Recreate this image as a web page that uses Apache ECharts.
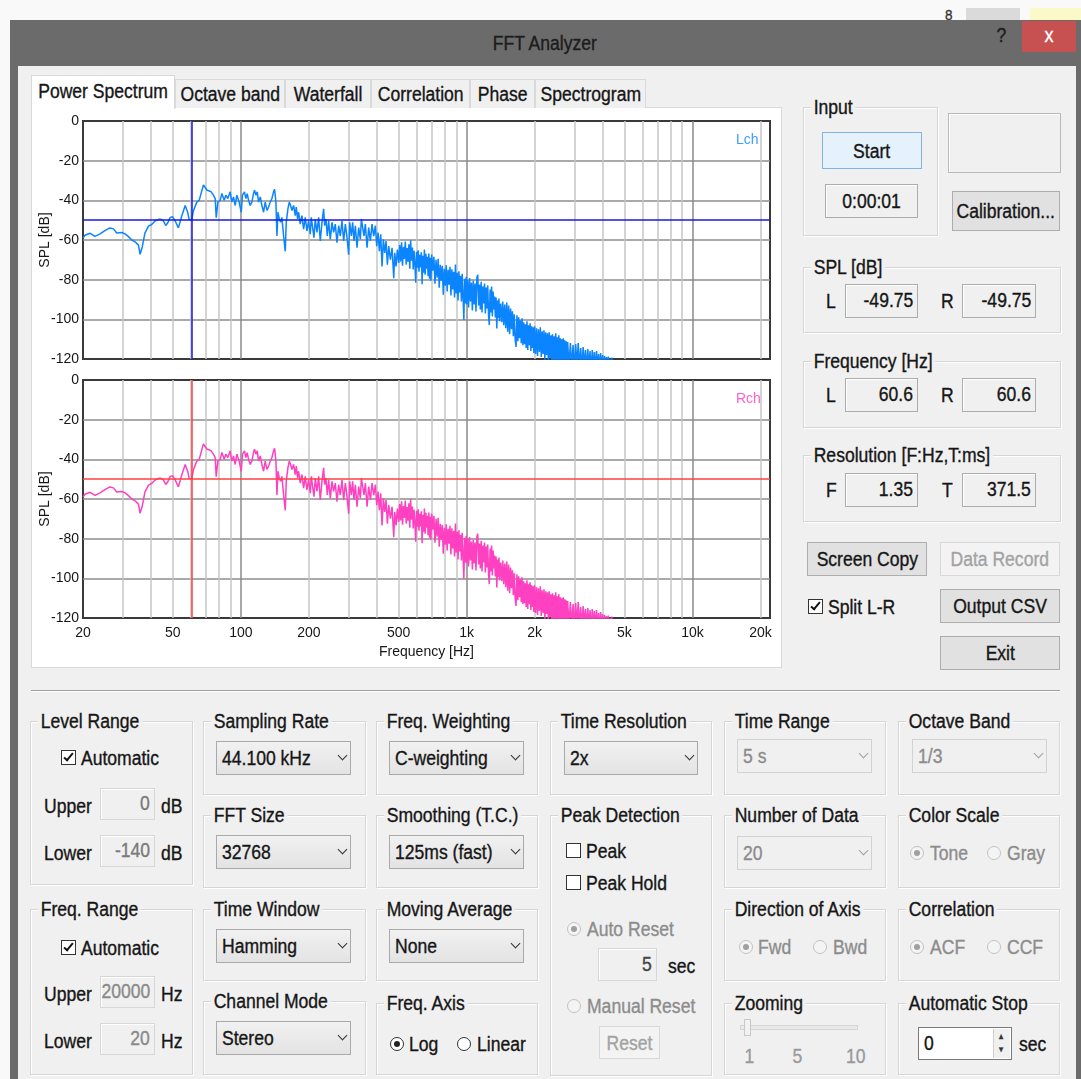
<!DOCTYPE html>
<html>
<head>
<meta charset="utf-8">
<title>FFT Analyzer</title>
<script src="https://cdn.jsdelivr.net/npm/echarts@6.0.0/dist/echarts.min.js"></script>
<style>
html,body{margin:0;padding:0;}
body{width:1081px;height:1079px;position:relative;overflow:hidden;background:#f9f9f9;font-family:"Liberation Sans",Arial,sans-serif;}
#ui div{position:absolute;box-sizing:border-box;}
#ui .t{white-space:nowrap;height:24px;line-height:24px;color:#161616;font-size:19.5px;}
#ui .t span{display:inline-block;transform:scaleX(.9);-webkit-text-stroke:.35px currentColor;}
#chart{position:absolute;left:20px;top:109px;width:761px;height:558px;}
</style>
</head>
<body>
<div id="ui"></div>
<div id="chart"></div>
<script>
// ---- Spectrum readings: [frequency (Hz), level (dB)] ----
const bandLow = [
  [20,-59.1],[20.4,-57.6],[21.5,-56.6],[22.6,-58.2],[23.8,-56.9],[25.0,-55.3],[26.3,-53.9],[26.8,-53.0],
  [27.3,-54.4],[28.2,-56.5],[29.7,-56.2],[30.7,-56.9],[31.8,-58.3],[32.9,-60.0],[34.0,-60.9],[34.6,-60.0],
  [35.2,-62.6],[35.8,-67.2],[36.6,-63.5],[37.6,-56.5],[39.0,-53.0],[40.3,-52.2],[41.7,-50.4],[43.2,-49.6],
  [44.3,-49.6],[45.4,-50.4],[46.5,-52.7],[47.5,-51.3],[48.6,-48.7],[49.8,-48.2],[51.2,-50.4],[52.9,-53.9],
  [54.8,-47.8],[56.7,-42.6],[57.6,-41.7],[58.2,-46.1],[59.0,-49.6],[60.6,-49.75],[61.7,-45.2],[63.8,-40.9],
  [65.4,-40.0],[66.7,-40.9],[68.3,-32.2],[69.5,-33.0],[70.7,-34.8],[71.9,-33.9],[73.9,-35.7],[75.6,-37.4],
  [77.0,-39.1],[77.8,-48.7],[79.1,-40.9],[81.0,-40.0],[82.4,-36.5],[84.4,-40.0],[85.8,-37.4],[87.6,-39.1],
  [89.7,-35.7],[91.2,-40.9],[92.8,-38.3],[94.4,-42.6],[96.0,-37.4],[98.3,-40.9]
];
const bandMid = [
  [100.4,-46.0],[101.7,-37.4],[103.8,-35.7],[105.3,-39.1],[106.7,-36.6],[108.2,-40.0],[110.0,-42.6],[111.9,-40.9],
  [113.8,-36.6],[115.0,-34.9],[116.6,-37.4],[118.2,-35.7],[119.8,-40.9],[121.9,-38.3],[124.0,-42.6],[126.1,-46.0],
  [128.2,-40.9],[130.5,-45.1],[132.7,-43.4],[135.0,-40.9],[137.3,-39.1],[139.6,-35.7],[141.1,-34.4],[143.0,-40.9],
  [144.5,-58.0],[146.0,-46.0],[148.0,-49.4],[150.0,-51.1],[152.0,-48.6],[154.7,-58.0],[157.3,-65.7],[158.9,-51.1],
  [161.6,-44.3],[163.9,-40.9],[166.1,-42.6],[168.4,-45.1],[171.3,-42.6],[174.2,-47.7],[176.0,-43.4],[178.4,-49.4],
  [180.3,-46.0],[183.3,-52.0],[186.5,-47.7],[189.7,-54.5],[192.9,-48.6],[196.2,-55.4],[199.6,-50.3],[203.0,-57.1],
  [205.1,-48.6],[207.9,-53.7],[210.8,-58.8],[213.6,-49.4],[217.3,-56.2],[221.1,-48.6],[224.8,-60.5],[228.7,-51.1],
  [232.6,-44.3],[235.0,-52.8],[238.2,-49.4],[241.5,-58.0],[244.8,-50.3],[249.0,-59.7],[253.3,-51.1],[257.6,-56.2],
  [262.0,-52.0],[266.6,-61.4],[271.2,-52.8],[275.8,-58.0],[280.5,-50.3],[285.4,-60.5],[290.3,-52.0],[295.3,-58.8],
  [300.3,-67.4],[303.4,-51.1],[308.6,-58.0],[312.8,-51.1],[317.1,-60.5],[321.5,-52.8],[327.0,-63.9],[332.6,-53.7],
  [338.3,-59.7],[341.8,-49.4],[346.5,-48.6],[351.2,-58.0],[356.0,-52.0],[362.2,-63.9],[368.4,-53.7],[374.7,-60.5],
  [381.1,-52.0],[387.7,-58.0],[394.3,-52.8],[399.7,-63.1],[405.2,-56.2],[410.7,-65.7],[416.3,-57.1],[422.0,-73.3],
  [427.8,-59.7],[433.7,-66.5],[439.6,-60.5],[445.7,-72.5],[451.8,-63.1],[459.5,-69.9],[467.4,-63.9],[475.5,-79.3],
  [480.3,-66.5],[486.9,-73.3],[493.5,-64.8]
];
const bandHigh1 = [
  [500,-71.6],[505,-62.5],[510,-70.8],[515,-61.2],[520,-73.0],[525,-63.5],[530,-69.5],[535,-60.8],[540,-72.4],
  [545,-64.0],[550,-71.0],[555,-62.2],[560,-74.5],[565,-60.2],[570,-70.5],[575,-63.8],[580,-74.8],[585,-65.5],
  [590,-72.0],[595,-81.5],[600,-66.0],[605,-74.0],[610,-65.2],[615,-76.0],[620,-67.5],[625,-73.8],[630,-66.2],
  [635,-82.3],[640,-68.0],[645,-76.5],[650,-64.8],[655,-77.5],[660,-67.0],[665,-74.5],[670,-68.5],[675,-78.2],
  [680,-66.8],[685,-79.5],[690,-69.0],[695,-80.5],[700,-67.3],[708,-75.5],[716,-68.5],[724,-82.0],[732,-70.0],
  [740,-79.0],[748,-69.5],[756,-84.0],[764,-72.5],[772,-80.5],[780,-73.0],[788,-87.6],[796,-74.5],[804,-83.0],
  [812,-72.8],[820,-86.0],[828,-75.0],[836,-82.5],[844,-73.5],[852,-88.0],[860,-74.8],[868,-85.0],[876,-76.0],
  [884,-89.0],[892,-72.4],[900,-87.0],[908,-76.5],[916,-90.5],[924,-75.8],[932,-86.5],[940,-78.0],[948,-91.0],
  [956,-77.0],[964,-88.5],[972,-100.3],[980,-79.5],[988,-92.0],[996,-78.5]
];
const bandHigh2 = [
  [1000,-92.5],[1010,-80.0],[1020,-94.0],[1030,-79.2],[1040,-91.0],[1050,-81.5],[1060,-95.5],[1070,-80.5],
  [1080,-92.5],[1090,-82.0],[1100,-96.0],[1110,-79.0],[1120,-77.5],[1130,-93.0],[1140,-82.5],[1150,-95.0],
  [1160,-81.0],[1170,-96.5],[1180,-83.5],[1190,-92.0],[1200,-82.0],[1210,-97.0],[1220,-84.0],[1230,-94.5],
  [1240,-83.0],[1250,-98.0],[1260,-102.9],[1270,-85.0],[1280,-96.5],[1290,-83.4],[1300,-98.5],[1310,-86.0],
  [1320,-95.0],[1330,-88.5],[1340,-99.0],[1350,-89.0],[1360,-104.6],[1370,-90.5],[1380,-99.5],[1390,-89.5],
  [1400,-101.0],[1415,-92.0],[1430,-101.5],[1445,-91.0],[1460,-103.0],[1475,-92.5],[1490,-104.5],[1505,-91.5],
  [1520,-106.3],[1535,-93.0],[1550,-107.5],[1565,-94.5],[1580,-105.0],[1595,-96.0],[1610,-108.5],[1625,-97.5],
  [1640,-110.0],[1655,-113.9],[1670,-98.0],[1685,-111.0],[1700,-99.0],[1715,-109.5],[1730,-100.5],[1745,-112.0],
  [1760,-99.5],[1775,-113.0],[1790,-101.5],[1805,-112.5],[1820,-102.5],[1835,-114.5],[1850,-101.0],[1865,-115.5],
  [1880,-103.0],[1895,-113.0],[1910,-102.0],[1925,-116.0],[1940,-103.5],[1955,-114.5],[1970,-104.0],[1985,-117.0]
];
const bandHigh3 = [
  [2000,-103.5],[2020,-117.5],[2040,-104.5],[2060,-118.5],[2080,-105.0],[2100,-116.5],[2120,-104.0],[2140,-119.0],
  [2160,-106.0],[2180,-117.5],[2200,-105.5],[2220,-120.5],[2240,-106.5],[2260,-118.0],[2280,-107.0],[2300,-121.5],
  [2320,-106.5],[2340,-119.5],[2360,-108.0],[2380,-122.0],[2400,-107.5],[2420,-120.5],[2440,-108.5],[2460,-123.0],
  [2480,-107.0],[2500,-121.0],[2520,-109.0],[2540,-123.5],[2560,-108.0],[2580,-121.5],[2600,-109.5],[2620,-124.0],
  [2640,-110.0],[2660,-122.0],[2680,-109.5],[2700,-124.5],[2720,-110.5],[2740,-122.5],[2760,-111.0],[2780,-125.0],
  [2800,-111.5],[2840,-123.5],[2880,-112.0],[2920,-124.0],[2960,-113.0],[3000,-125.0],[3040,-112.5],[3080,-123.0],
  [3120,-111.9],[3160,-124.5],[3200,-114.5],[3240,-125.5],[3280,-114.0],[3320,-124.0],[3360,-115.5],[3400,-126.0],
  [3440,-115.0],[3480,-124.5],[3520,-116.0],[3560,-126.5],[3600,-115.5],[3640,-125.0],[3680,-116.5],[3720,-127.0],
  [3760,-116.0],[3800,-125.5],[3840,-117.5],[3880,-127.5],[3920,-117.0],[3960,-126.0],[4000,-118.0],[4040,-128.0],
  [4080,-118.5],[4120,-126.5],[4160,-119.0],[4200,-128.5],[4240,-118.8],[4280,-127.0],[4320,-120.0],[4360,-129.0],
  [4400,-119.2],[4440,-128.0],[4480,-121.5],[4520,-130.0]
];
const spectrumL = [].concat(bandLow, bandMid, bandHigh1, bandHigh2, bandHigh3);
// both channels carry the same (mono) signal
const spectrumR = spectrumL;

// cursor readout
const cursorFreq = 60.6;
const cursorLevel = -49.75;

// axes
const freqMin = 20, freqMax = 22050;
const gridFreqs = [30,40,50,60,70,80,90,100,200,300,400,500,600,700,800,900,1000,2000,3000,4000,5000,6000,7000,8000,9000,10000,20000];
const decadeFreqs = [100,1000,10000];
const freqLabels = [20,50,100,200,500,1000,2000,5000,10000,20000];
const levelMin = -120, levelMax = 0, levelStep = 20;

// ---- Dialog chrome ----
const ui = document.getElementById('ui');
function box(x, y, w, h, css) {
  const d = document.createElement('div');
  Object.assign(d.style, {left: x + 'px', top: y + 'px', width: w + 'px', height: h + 'px'}, css || {});
  ui.appendChild(d);
  return d;
}
function label(x, cy, s, opt) {
  opt = opt || {};
  const align = opt.align || 'left';
  const W = 400;
  const left = align === 'left' ? x : (align === 'center' ? x - W / 2 : x - W);
  const d = document.createElement('div');
  d.className = 't';
  Object.assign(d.style, {left: left + 'px', top: (cy - 12) + 'px', width: W + 'px', textAlign: align,
    color: opt.color || '#161616'});
  if (opt.size) d.style.fontSize = opt.size + 'px';
  const sp = document.createElement('span');
  sp.style.transformOrigin = align === 'left' ? 'left center' : (align === 'center' ? 'center center' : 'right center');
  if (opt.bg) { sp.style.background = opt.bg; sp.style.padding = '0 3px'; }
  sp.textContent = s;
  d.appendChild(sp);
  ui.appendChild(d);
  return d;
}
function group(x, y, w, h, title) {
  box(x, y, w, h, {border: '1px solid #d6d6d6', boxShadow: 'inset 1px 1px 0 #fff, 1px 1px 0 #fff'});
  label(x + 8, y, title, {bg: '#f0f0f0'});
}
function chevron(x, cy, color) {
  box(x, cy - 6, 7, 7, {borderRight: '1.6px solid ' + color, borderBottom: '1.6px solid ' + color, transform: 'rotate(45deg)'});
}
function select(x, y, w, h, val, disabled) {
  const c = disabled ? '#a0a0a0' : '#333';
  box(x, y, w, h, {border: '1px solid ' + (disabled ? '#d2d2d2' : '#a9a9a9'),
    background: disabled ? '#f0f0f0' : 'linear-gradient(#f1f1f1,#e3e3e3)'});
  label(x + 6, y + h / 2, val, {color: disabled ? '#8c8c8c' : '#161616'});
  chevron(x + w - 12, y + h / 2, c);
}
function field(x, y, w, h, val, opt) {
  opt = opt || {};
  box(x, y, w, h, {border: '1px solid ' + (opt.disabled ? '#d7d7d7' : '#acacac'), background: opt.bg || '#f0f0f0',
    boxShadow: 'inset 1px 1px 0 #fff'});
  if (opt.align === 'center') label(x + w / 2, y + h / 2, val, {align: 'center', color: opt.color});
  else label(x + w - 5, y + h / 2 - 1, val, {align: 'right', color: opt.color || (opt.disabled ? '#7a7a7a' : '#161616')});
}
function button(x, y, w, h, text, opt) {
  opt = opt || {};
  box(x, y, w, h, {border: '1px solid ' + (opt.border || (opt.disabled ? '#d8d8d8' : '#adadad')),
    background: opt.bg || (opt.disabled ? '#f3f3f3' : '#e1e1e1')});
  label(x + w / 2, y + h / 2, text, {align: 'center', color: opt.disabled ? '#a3a3a3' : '#161616'});
}
function check(x, y, checked, text) {
  box(x, y, 15, 15, {border: '1px solid #333', background: '#fff'});
  if (checked) box(x + 5, y + 1, 5, 10, {borderRight: '2px solid #111', borderBottom: '2px solid #111', transform: 'rotate(40deg)'});
  label(x + 20, y + 8, text);
}
function radio(cx, cy, checked, disabled, text, tx) {
  box(cx - 7, cy - 7, 14, 14, {border: '1px solid ' + (disabled ? '#c2c2c2' : '#333'), borderRadius: '50%',
    background: disabled ? '#f4f4f4' : '#fff'});
  if (checked) box(cx - 3, cy - 3, 6, 6, {borderRadius: '50%', background: disabled ? '#a0a0a0' : '#222'});
  label(tx || (cx + 12), cy, text, {color: disabled ? '#8c8c8c' : '#161616'});
}

// background windows peeking above
box(966, 8, 54, 14, {background: '#dadada'});
box(1030, 8, 51, 14, {background: '#fcf9c9'});
label(945, 15, '8', {size: 15, color: '#333'});

// window frame and title bar
box(10, 20, 1071, 1059, {background: '#6b6b6b'});
box(18, 66, 1058, 1013, {background: '#f0f0f0'});
label(545, 43, 'FFT Analyzer', {align: 'center', color: '#1c1c1c'});
label(1001, 35, '?', {align: 'center', color: '#1c1c1c'});
box(1022, 21, 54, 31, {background: '#c75050'});
label(1049, 35, 'x', {align: 'center', color: '#fff', size: 20});

// tab page
box(31, 107, 751, 561, {background: '#fff', border: '1px solid #d9d9d9'});
[['Octave band', 175, 110], ['Waterfall', 285, 86], ['Correlation', 371, 99], ['Phase', 470, 65], ['Spectrogram', 535, 111]]
  .forEach(function (t) {
    box(t[1], 79, t[2], 29, {background: '#f0f0f0', border: '1px solid #d9d9d9', borderBottom: 'none'});
    label(t[1] + t[2] / 2, 94, t[0], {align: 'center'});
  });
box(31, 75, 144, 34, {background: '#fff', border: '1px solid #d9d9d9', borderBottom: 'none'});
label(103, 91, 'Power Spectrum', {align: 'center'});

// right-hand panel
group(803, 107, 135, 129, 'Input');
button(822, 132, 100, 37, 'Start', {bg: '#e5f1fb', border: '#7eb4ea'});
field(825, 184, 93, 34, '0:00:01', {align: 'center'});
box(948, 113, 113, 60, {border: '1px solid #b9b9b9', background: '#f0f0f0', boxShadow: 'inset 1px 1px 0 #fff'});
button(952, 191, 108, 40, 'Calibration...');

group(803, 267, 258, 66, 'SPL [dB]');
label(826, 301, 'L'); field(845, 284, 73, 34, '-49.75');
label(941, 301, 'R'); field(962, 284, 74, 34, '-49.75');
group(803, 361, 258, 67, 'Frequency [Hz]');
label(826, 395, 'L'); field(845, 378, 73, 34, '60.6');
label(941, 395, 'R'); field(962, 378, 74, 34, '60.6');
group(803, 455, 258, 67, 'Resolution [F:Hz,T:ms]');
label(826, 490, 'F'); field(845, 473, 73, 34, '1.35');
label(942, 490, 'T'); field(962, 473, 74, 34, '371.5');

button(807, 542, 120, 34, 'Screen Copy');
button(940, 542, 120, 34, 'Data Record', {disabled: true});
check(808, 599, true, 'Split L-R');
button(940, 589, 120, 34, 'Output CSV');
button(940, 636, 120, 34, 'Exit');

// separator
box(31, 690, 1029, 2, {borderTop: '1px solid #a0a0a0', borderBottom: '1px solid #fff'});

// settings: column 1
group(30, 721, 163, 164, 'Level Range');
check(61, 750, true, 'Automatic');
label(44, 806, 'Upper'); field(100, 788, 55, 32, '0', {disabled: true}); label(161, 806, 'dB');
label(44, 853, 'Lower'); field(100, 835, 55, 32, '-140', {disabled: true}); label(161, 853, 'dB');
group(30, 909, 163, 166, 'Freq. Range');
check(61, 940, true, 'Automatic');
label(44, 994, 'Upper'); field(100, 976, 55, 32, '20000', {disabled: true, color: '#8a8a8a'}); label(161, 994, 'Hz');
label(44, 1041, 'Lower'); field(100, 1023, 55, 32, '20', {disabled: true, color: '#8a8a8a'}); label(161, 1041, 'Hz');

// column 2
group(203, 721, 163, 74, 'Sampling Rate'); select(216, 741, 135, 34, '44.100 kHz');
group(203, 815, 163, 73, 'FFT Size'); select(216, 835, 135, 34, '32768');
group(203, 909, 163, 72, 'Time Window'); select(216, 929, 135, 34, 'Hamming');
group(203, 1001, 163, 74, 'Channel Mode'); select(216, 1021, 135, 34, 'Stereo');

// column 3
group(376, 721, 162, 74, 'Freq. Weighting'); select(389, 741, 135, 34, 'C-weighting');
group(376, 815, 162, 73, 'Smoothing (T.C.)'); select(389, 835, 135, 34, '125ms (fast)');
group(376, 909, 162, 72, 'Moving Average'); select(389, 929, 135, 34, 'None');
group(376, 1003, 162, 72, 'Freq. Axis');
radio(397, 1044, true, false, 'Log', 409);
radio(464, 1044, false, false, 'Linear', 477);

// column 4
group(550, 721, 162, 74, 'Time Resolution'); select(564, 741, 134, 34, '2x');
group(550, 815, 162, 261, 'Peak Detection');
check(566, 843, false, 'Peak');
check(566, 875, false, 'Peak Hold');
radio(574, 929, true, true, 'Auto Reset', 587);
field(598, 948, 59, 33, '5', {disabled: true, color: '#444'});
label(668, 966, 'sec');
radio(574, 1006, false, true, 'Manual Reset', 587);
button(599, 1026, 61, 33, 'Reset', {disabled: true});

// column 5
group(724, 721, 162, 74, 'Time Range'); select(737, 739, 135, 34, '5 s', true);
group(724, 815, 162, 73, 'Number of Data'); select(737, 836, 135, 34, '20', true);
group(724, 909, 162, 72, 'Direction of Axis');
radio(746, 947, true, true, 'Fwd', 758);
radio(820, 947, false, true, 'Bwd', 833);
group(724, 1003, 162, 72, 'Zooming');
box(740, 1025, 118, 5, {border: '1px solid #d5d5d5', background: '#e9e9e9'});
box(744, 1019, 7, 17, {border: '1px solid #c8c8c8', background: '#f2f2f2'});
label(749, 1056, '1', {align: 'center', color: '#9a9a9a'});
label(797, 1056, '5', {align: 'center', color: '#9a9a9a'});
label(856, 1056, '10', {align: 'center', color: '#9a9a9a'});

// column 6
group(898, 721, 162, 74, 'Octave Band'); select(912, 739, 135, 34, '1/3', true);
group(898, 815, 162, 73, 'Color Scale');
radio(917, 853, true, true, 'Tone', 930);
radio(994, 853, false, true, 'Gray', 1007);
group(898, 909, 162, 72, 'Correlation');
radio(917, 947, true, true, 'ACF', 930);
radio(994, 947, false, true, 'CCF', 1007);
group(898, 1003, 162, 72, 'Automatic Stop');
box(918, 1027, 94, 33, {border: '1px solid #7a7a7a', background: '#fff'});
label(924, 1043, '0');
box(993, 1029, 17, 29, {borderLeft: '1px solid #d0d0d0', background: '#f0f0f0'});
label(1001, 1037, '\u25B2', {align: 'center', size: 8, color: '#333'});
label(1001, 1050, '\u25BC', {align: 'center', size: 8, color: '#333'});
label(1019, 1044, 'sec');

// ---- Power spectrum plots ----
const chart = echarts.init(document.getElementById('chart'));
const AXIS_FONT = {fontFamily: '"Liberation Sans", Arial, sans-serif', fontSize: 14, color: '#161616'};
const channels = [
  {name: 'Lch', data: spectrumL, color: '#0a84ff', cursor: '#1818e0', tag: '#3d9dff'},
  {name: 'Rch', data: spectrumR, color: '#ff40c0', cursor: '#ff4040', tag: '#ff5fcf'}
];
const plotTops = [12, 271];
const plotLeft = 63;
function fmtFreq(v) {
  const r = Math.round(v);
  return r >= 1000 ? (r / 1000) + 'k' : String(r);
}

const series = [];
channels.forEach(function (ch, i) {
  series.push({
    type: 'line', xAxisIndex: i, yAxisIndex: i, data: [], silent: true, z: 1,
    markLine: {
      silent: true, symbol: ['none', 'none'], animation: false, label: {show: false}, z: 1,
      data: gridFreqs.map(function (f) {
        return {xAxis: f, lineStyle: {color: decadeFreqs.indexOf(f) >= 0 ? '#8a8a8a' : '#c6c6c6', width: 1.5, type: 'solid'}};
      })
    }
  });
  series.push({
    type: 'line', name: ch.name, xAxisIndex: i, yAxisIndex: i, data: ch.data,
    showSymbol: false, symbol: 'none', clip: true, z: 3,
    lineStyle: {color: ch.color, width: 1.5},
    markLine: {
      silent: true, symbol: ['none', 'none'], animation: false, label: {show: false}, z: 6,
      lineStyle: {color: ch.cursor, width: 1.5, type: 'solid'},
      data: [{xAxis: cursorFreq}, {yAxis: cursorLevel}]
    }
  });
});

chart.setOption({
  animation: false,
  grid: plotTops.map(function (t) {
    return {left: plotLeft, top: t, width: 687, height: 238, outerBoundsMode: 'none', containLabel: false,
      show: true, backgroundColor: '#fff', borderColor: '#3a3a3a', borderWidth: 2};
  }),
  xAxis: channels.map(function (ch, i) {
    return {
      type: 'log', logBase: 10, gridIndex: i, min: freqMin, max: freqMax,
      axisLine: {show: false}, axisTick: {show: false},
      splitLine: {show: false}, minorSplitLine: {show: false},
      axisLabel: Object.assign({show: i === 1, customValues: freqLabels, formatter: fmtFreq, margin: 8}, AXIS_FONT),
      name: i === 1 ? 'Frequency [Hz]' : '', nameLocation: 'middle', nameGap: 27, nameMoveOverlap: false,
      nameTextStyle: AXIS_FONT
    };
  }),
  yAxis: channels.map(function (ch, i) {
    return {
      type: 'value', gridIndex: i, min: levelMin, max: levelMax, interval: levelStep,
      axisLine: {show: false}, axisTick: {show: false},
      axisLabel: Object.assign({margin: 4}, AXIS_FONT),
      splitLine: {show: true, showMinLine: false, showMaxLine: false, lineStyle: {color: '#8c8c8c', width: 1.5}},
      name: 'SPL [dB]', nameLocation: 'middle', nameRotate: 90, nameGap: 31, nameMoveOverlap: false,
      nameTextStyle: AXIS_FONT
    };
  }),
  graphic: channels.map(function (ch, i) {
    return {type: 'text', left: plotLeft + 653, top: plotTops[i] + 12, z: 10,
      style: {text: ch.name, fill: ch.tag, font: '14px "Liberation Sans", Arial, sans-serif'}};
  }),
  series: series
});
</script>
</body>
</html>
